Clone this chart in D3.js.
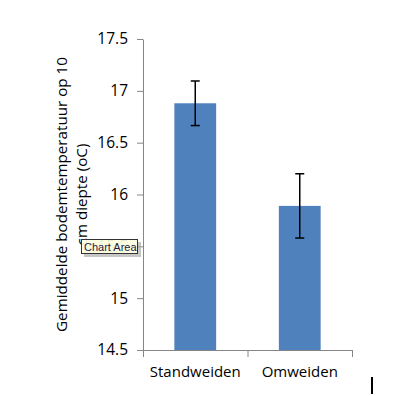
<!DOCTYPE html>
<html>
<head>
<meta charset="utf-8">
<script src="https://cdn.jsdelivr.net/npm/d3@7"></script>
<style>
  body { margin: 0; background: #fff; }
  svg { display: block; }
  .tick text { font-family: "Open Sans", sans-serif; }
</style>
</head>
<body>
<div id="chart"></div>
<script>
// Data
const categories = ['Standweiden', 'Omweiden'];
const means = [16.88, 15.89];
const errors = [0.215, 0.31];
const yTicks = [14.5, 15, 15.5, 16, 16.5, 17, 17.5];
const titleLines = ['Gemiddelde bodemtemperatuur op 10', 'cm diepte (oC)'];

const width = 401;
const height = 396;
const margin = {top: 39, right: 49, bottom: 46, left: 143};
const barColor = '#4F81BD';
const axisColor = '#868686';

const svg = d3.select('#chart').append('svg')
    .attr('width', width)
    .attr('height', height);

const x = d3.scaleBand()
    .domain(categories)
    .range([margin.left, width - margin.right])
    .padding(0);

const y = d3.scaleLinear()
    .domain([14.5, 17.5])
    .range([height - margin.bottom, margin.top]);

const barW = x.bandwidth() * 0.4; // excel gap width 150%

const data = categories.map((c, i) => ({cat: c, mean: means[i], err: errors[i]}));

// bars
svg.selectAll('rect.bar')
    .data(data)
  .enter().append('rect')
    .attr('class', 'bar')
    .attr('x', d => x(d.cat) + x.bandwidth() / 2 - barW / 2)
    .attr('width', barW)
    .attr('y', d => y(d.mean))
    .attr('height', d => y(14.5) - y(d.mean))
    .attr('fill', barColor);

// y axis
const yAxis = svg.append('g')
    .attr('transform', `translate(${margin.left},0)`)
    .call(d3.axisLeft(y).tickValues(yTicks).tickFormat(d3.format('')).tickSizeInner(6).tickSizeOuter(0).tickPadding(9));
yAxis.select('.domain').attr('stroke', axisColor);
yAxis.selectAll('.tick line').attr('stroke', axisColor);
yAxis.selectAll('.tick text')
    .attr('fill', '#000')
    .style('font-size', '15.5px');

// x axis
const xAxis = svg.append('g')
    .attr('transform', `translate(0,${y(14.5)})`)
    .call(d3.axisBottom(x).tickSize(0).tickPadding(16));
xAxis.select('.domain').attr('stroke', axisColor);
xAxis.selectAll('.tick text')
    .attr('fill', '#000')
    .style('font-size', '15px');
// category boundary ticks
const bounds = categories.map(c => x(c)).concat([x.range()[1]]);
xAxis.selectAll('line.sep')
    .data(bounds)
  .enter().append('line')
    .attr('class', 'sep')
    .attr('x1', d => d + 0.5).attr('x2', d => d + 0.5)
    .attr('y1', 0).attr('y2', 7)
    .attr('stroke', axisColor);

// error bars
const eb = svg.selectAll('g.err')
    .data(data)
  .enter().append('g')
    .attr('class', 'err')
    .attr('stroke', '#000')
    .attr('stroke-width', 1.5);
eb.append('line')
    .attr('x1', d => x(d.cat) + x.bandwidth() / 2)
    .attr('x2', d => x(d.cat) + x.bandwidth() / 2)
    .attr('y1', d => y(d.mean + d.err))
    .attr('y2', d => y(d.mean - d.err));
eb.selectAll('line.cap')
    .data(d => [d.mean + d.err, d.mean - d.err].map(v => ({cat: d.cat, v: v})))
  .enter().append('line')
    .attr('class', 'cap')
    .attr('x1', d => x(d.cat) + x.bandwidth() / 2 - 4.5)
    .attr('x2', d => x(d.cat) + x.bandwidth() / 2 + 4.5)
    .attr('y1', d => y(d.v))
    .attr('y2', d => y(d.v));

// axis title, two lines rotated
const midY = (y.range()[0] + y.range()[1]) / 2;
svg.append('text')
    .attr('transform', `translate(67,${midY}) rotate(-90)`)
    .attr('text-anchor', 'middle')
    .style('font-family', '"Open Sans", sans-serif')
    .style('font-size', '15.2px')
    .selectAll('tspan')
    .data(titleLines)
  .enter().append('tspan')
    .attr('x', 0)
    .attr('y', (d, i) => i * 20)
    .text(d => d);

// "Chart Area" tooltip
const tip = svg.append('g').attr('transform', 'translate(81,239)');
tip.append('rect')
    .attr('x', 3).attr('y', 3).attr('width', 57).attr('height', 15)
    .attr('fill', '#a0a0a0').attr('opacity', 0.6);
tip.append('rect')
    .attr('x', 0.5).attr('y', 0.5).attr('width', 56).attr('height', 14)
    .attr('fill', '#FFFFE1').attr('fill-opacity', 0.92)
    .attr('stroke', '#333');
tip.append('text')
    .attr('x', 3).attr('y', 11.5)
    .style('font-family', '"Liberation Sans", sans-serif')
    .style('font-size', '11px')
    .attr('fill', '#1a1a4a')
    .text('Chart Area');

// text cursor
svg.append('rect')
    .attr('x', 371).attr('y', 377).attr('width', 2).attr('height', 17)
    .attr('fill', '#000');
</script>
</body>
</html>
